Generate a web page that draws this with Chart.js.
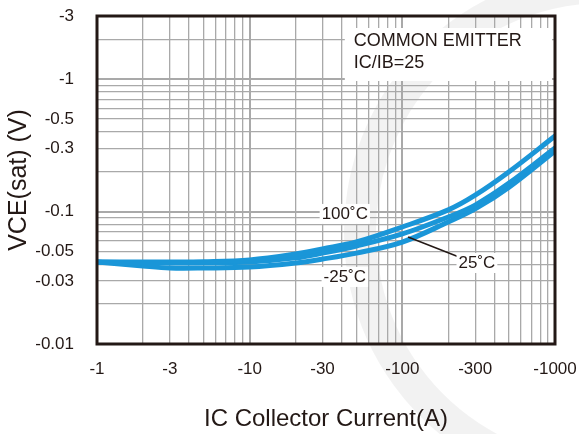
<!doctype html>
<html lang="en">
<head>
<meta charset="utf-8">
<title>VCE(sat) vs IC</title>
<style>
  * { margin: 0; padding: 0; }
  body { background: #fff; }
  .chartBox { width: 579px; height: 434px; }
</style>
</head>
<body>
<div class="chartBox"><canvas id="myChart"></canvas></div>
<script src="https://cdn.jsdelivr.net/npm/chart.js/dist/chart.umd.min.js"></script>
<script>
// data (magnitudes, plotted on log axes; labels carry the minus sign)
const currents = [1, 2, 3, 5, 10, 20, 30, 50, 100, 200, 300, 500, 1000];
const vce100C = [0.0416, 0.0416, 0.0416, 0.0418, 0.0431, 0.0478, 0.0522, 0.0589, 0.0765, 0.103, 0.133, 0.2, 0.372];
const vce25C = [0.0416, 0.0409, 0.0409, 0.041, 0.0416, 0.0447, 0.0486, 0.055, 0.0678, 0.091, 0.112, 0.164, 0.302];
const vceMinus25C = [0.0416, 0.0388, 0.0375, 0.0375, 0.0381, 0.0409, 0.0438, 0.0486, 0.0589, 0.0835, 0.1047, 0.153, 0.287];

const xGridValues = [1, 2, 3, 4, 5, 6, 7, 8, 9, 10, 20, 30, 40, 50, 60, 70, 80, 90, 100, 200, 300, 400, 500, 600, 700, 800, 900, 1000];
const xTickLabels = [1, 3, 10, 30, 100, 300, 1000];
const yGridValues = [0.01, 0.02, 0.03, 0.04, 0.05, 0.06, 0.07, 0.08, 0.09, 0.1, 0.2, 0.3, 0.4, 0.5, 0.6, 0.7, 0.8, 0.9, 1, 2, 3];
const yTickLabels = [3, 1, 0.5, 0.3, 0.1, 0.05, 0.03, 0.01];

const lineColor = '#1a96d8';
const inkColor = '#231815';
const fontFamily = '"Liberation Sans", Arial, sans-serif';

const toPoints = (ys) => currents.map((c, i) => ({ x: c, y: ys[i] }));
const near = (a, b) => Math.abs(a - b) < 1e-9 * Math.max(1, b);
const isDecade = (v) => near(Math.log10(v), Math.round(Math.log10(v)));

const data = {
  datasets: [
    { label: '100C', data: toPoints(vce100C) },
    { label: '25C', data: toPoints(vce25C) },
    { label: '-25C', data: toPoints(vceMinus25C) }
  ].map(d => Object.assign(d, {
    borderColor: lineColor,
    borderWidth: 5,
    pointRadius: 0,
    borderCapStyle: 'round',
    tension: 0.35,
    fill: false
  }))
};

function textBox(ctx, text, cx, cy) {
  const w = ctx.measureText(text).width;
  ctx.fillStyle = '#fff';
  ctx.fillRect(cx - w / 2 - 2, cy - 10, w + 4, 20);
  ctx.fillStyle = inkColor;
  ctx.fillText(text, cx, cy);
}

const decorations = {
  id: 'decorations',
  beforeDraw(chart) {
    // faint watermark arc behind the plot
    const { ctx } = chart;
    ctx.save();
    ctx.strokeStyle = 'rgba(0,0,0,0.05)';
    ctx.lineWidth = 32;
    ctx.beginPath();
    ctx.arc(605, 232, 245, Math.PI * 0.55, Math.PI * 1.5);
    ctx.stroke();
    ctx.restore();
  },
  afterDatasetsDraw(chart) {
    const { ctx, chartArea, scales: { x, y } } = chart;
    ctx.save();
    // info box
    const bx = x.getPixelForValue(42);
    ctx.fillStyle = '#fff';
    ctx.fillRect(bx, chartArea.top + 12, chartArea.right - 3 - bx, 53);
    ctx.fillStyle = inkColor;
    ctx.font = `18px ${fontFamily}`;
    ctx.textAlign = 'left';
    ctx.textBaseline = 'middle';
    ctx.fillText('COMMON EMITTER', bx + 9, chartArea.top + 25);
    ctx.fillText('IC/IB=25', bx + 9, chartArea.top + 47);

    // curve labels
    ctx.font = `17px ${fontFamily}`;
    ctx.textAlign = 'center';
    textBox(ctx, '100˚C', x.getPixelForValue(42), y.getPixelForValue(0.096));
    textBox(ctx, '-25˚C', x.getPixelForValue(42), y.getPixelForValue(0.0321));
    // leader line for 25C
    ctx.strokeStyle = inkColor;
    ctx.lineWidth = 1.5;
    ctx.beginPath();
    ctx.moveTo(x.getPixelForValue(109), y.getPixelForValue(0.0643));
    ctx.lineTo(x.getPixelForValue(235), y.getPixelForValue(0.0454));
    ctx.stroke();
    textBox(ctx, '25˚C', x.getPixelForValue(308), y.getPixelForValue(0.0409));
    ctx.restore();
  },
  afterDraw(chart) {
    const { ctx, chartArea: { left, top, width, height } } = chart;
    ctx.save();
    ctx.strokeStyle = inkColor;
    ctx.lineWidth = 3;
    ctx.strokeRect(left, top, width, height);
    ctx.restore();
  }
};

const config = {
  type: 'line',
  data,
  options: {
    responsive: true,
    maintainAspectRatio: false,
    animation: false,
    layout: { padding: { top: 16, right: 24, left: 0, bottom: 0 } },
    plugins: {
      legend: { display: false },
      tooltip: { enabled: false }
    },
    scales: {
      x: {
        type: 'logarithmic',
        min: 1,
        max: 1000,
        afterBuildTicks: (scale) => { scale.ticks = xGridValues.map(v => ({ value: v })); },
        afterFit: (scale) => { scale.height = 90; scale.paddingLeft = 0; scale.paddingRight = 0; },
        grid: {
          color: '#a9a9a9',
          lineWidth: (c) => (c.tick && isDecade(c.tick.value) ? 2 : 1.3),
          drawTicks: false
        },
        border: { display: false },
        ticks: {
          autoSkip: false,
          maxRotation: 0,
          padding: 15,
          color: inkColor,
          font: { family: fontFamily, size: 17 },
          callback: (v) => (xTickLabels.some(t => near(v, t)) ? '-' + v : '')
        },
        title: {
          display: true,
          text: 'IC Collector Current(A)',
          color: inkColor,
          font: { family: fontFamily, size: 24 },
          padding: { top: 0, bottom: 0 }
        }
      },
      y: {
        type: 'logarithmic',
        min: 0.01,
        max: 3,
        afterBuildTicks: (scale) => { scale.ticks = yGridValues.map(v => ({ value: v })); },
        afterFit: (scale) => { scale.width = 97; scale.paddingTop = 0; scale.paddingBottom = 0; },
        grid: {
          color: '#a9a9a9',
          lineWidth: (c) => (c.tick && isDecade(c.tick.value) ? 2 : 1.3),
          drawTicks: false
        },
        border: { display: false },
        ticks: {
          autoSkip: false,
          padding: 23,
          color: inkColor,
          font: { family: fontFamily, size: 17 },
          callback: (v) => {
            const t = yTickLabels.find(t => near(v, t));
            return t === undefined ? '' : '-' + t;
          }
        },
        title: {
          display: true,
          text: 'VCE(sat) (V)',
          color: inkColor,
          font: { family: fontFamily, size: 25 },
          padding: { top: 4, bottom: 0 }
        }
      }
    }
  },
  plugins: [decorations]
};

const myChart = new Chart(document.getElementById('myChart'), config);
</script>
</body>
</html>
